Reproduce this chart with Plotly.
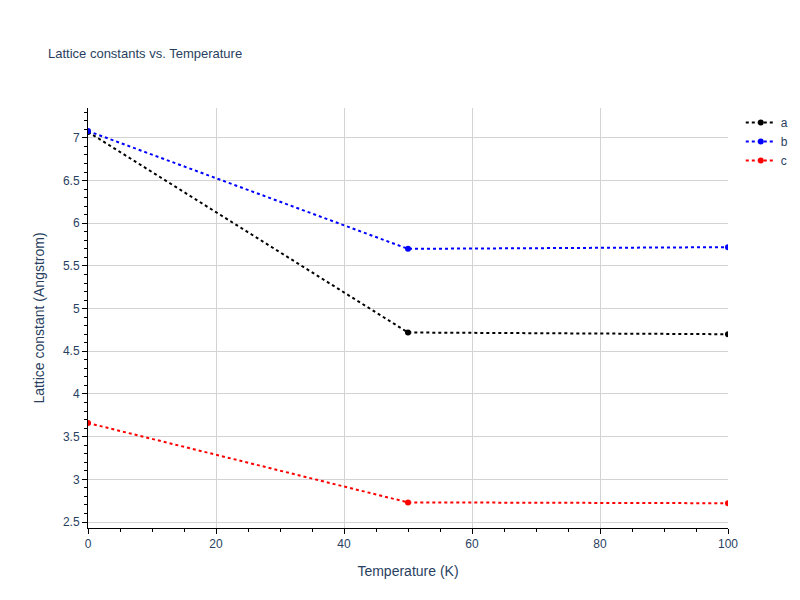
import plotly.graph_objects as go

temps = [0, 50, 100]
a_vals = [7.07, 4.72, 4.70]
b_vals = [7.08, 5.70, 5.72]
c_vals = [3.66, 2.73, 2.72]

fig = go.Figure()
for name, vals, col in [("a", a_vals, "black"), ("b", b_vals, "blue"), ("c", c_vals, "red")]:
    fig.add_trace(go.Scatter(x=temps, y=vals, name=name, mode="lines+markers",
                             line=dict(color=col, dash="dot", width=2),
                             marker=dict(color=col, size=6)))

axis_common = dict(showline=True, linecolor="black", linewidth=1, ticks="outside",
                   tickcolor="black", showgrid=True, gridcolor="lightgrey",
                   zeroline=False, minor=dict(ticks="outside", tickcolor="black", ticklen=3))
fig.update_layout(
    template="plotly_white",
    width=800, height=600,
    font=dict(family="Arial", color="#2a3f5f"),
    margin=dict(l=80, r=80, t=100, b=80),
    title=dict(text="Lattice constants vs. Temperature", font=dict(size=13), x=0.05),
    legend=dict(font=dict(color="#2a3f5f")),
    xaxis=dict(title="Temperature (K)", range=[0, 100], **axis_common),
    yaxis=dict(title="Lattice constant (Angstrom)", range=[2.43, 7.35], dtick=0.5, **axis_common),
)
fig.write_html("out.html")
